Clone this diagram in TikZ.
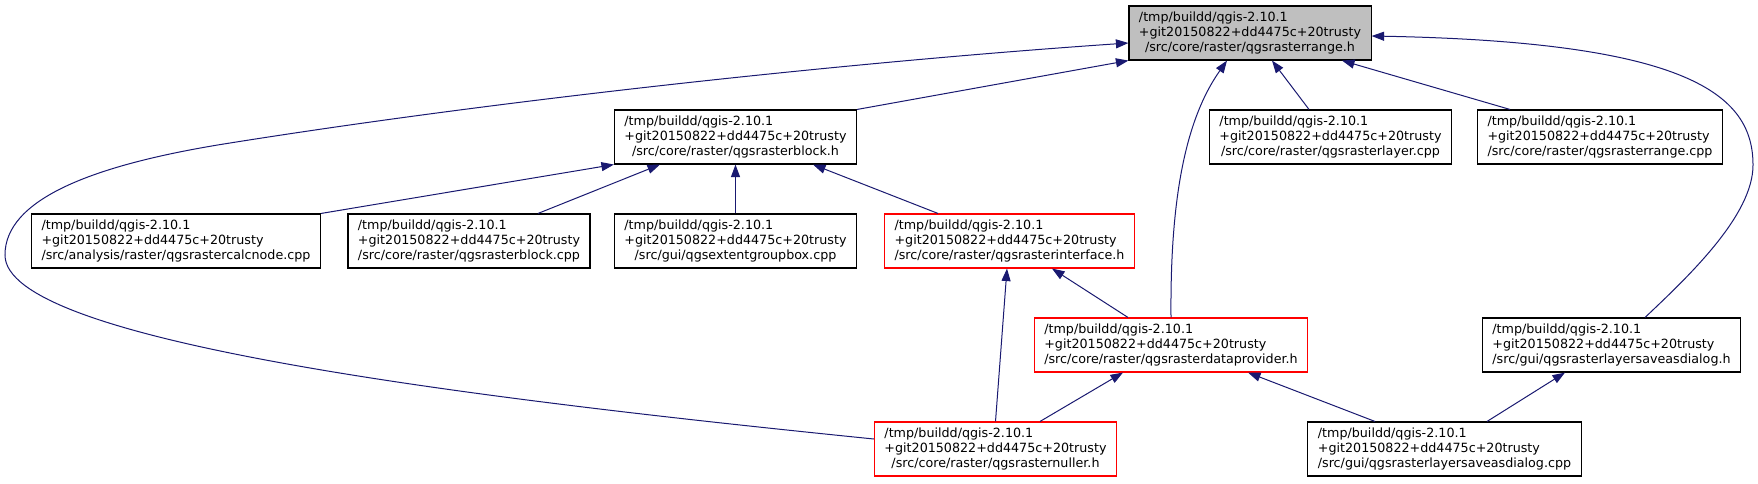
\documentclass[tikz,border=0pt]{standalone}
\usepackage{fontspec}
\setmainfont{DejaVu Sans}
\usepackage{tikz}
\usetikzlibrary{arrows.meta}
\definecolor{edgeblue}{HTML}{191970}
\definecolor{rootgrey}{HTML}{BFBFBF}
\newcommand{\qgisfile}[1]{\begin{tabular}{@{}l@{}}/tmp/buildd/qgis-2.10.1\\+git20150822+dd4475c+20trusty\\\multicolumn{1}{@{}c@{}}{#1}\end{tabular}}

\begin{document}
\begin{tikzpicture}[x=1pt, y=-1pt, node distance=104pt, every node/.style={draw, fill=white, line width=1.1pt, inner xsep=10pt, inner ysep=0pt, minimum height=54pt, font=\fontsize{12.7}{15}\selectfont}, dep/.style={edgeblue, line width=1pt, -{Triangle[length=12.5pt, width=9pt]}}]
\useasboundingbox (0,0) rectangle (1758,483);
\node[fill=rootgrey] (range) at (1250,33) {\qgisfile{/src/core/raster/qgsrasterrange.h}};
\node[below of=range, xshift=-514.5pt] (block) {\qgisfile{/src/core/raster/qgsrasterblock.h}};
\node[below of=range, xshift=80.5pt] (layercpp) {\qgisfile{/src/core/raster/qgsrasterlayer.cpp}};
\node[below of=range, xshift=350pt] (rangecpp) {\qgisfile{/src/core/raster/qgsrasterrange.cpp}};
\node[below of=block, xshift=-559.5pt] (calcnode) {\qgisfile{/src/analysis/raster/qgsrastercalcnode.cpp}};
\node[below of=block, xshift=-266.5pt] (blockcpp) {\qgisfile{/src/core/raster/qgsrasterblock.cpp}};
\node[below of=block] (extent) {\qgisfile{/src/gui/qgsextentgroupbox.cpp}};
\node[below of=block, xshift=274pt, draw=red] (iface) {\qgisfile{/src/core/raster/qgsrasterinterface.h}};
\node[below of=iface, xshift=161.5pt, draw=red] (dataprov) {\qgisfile{/src/core/raster/qgsrasterdataprovider.h}};
\node[right of=dataprov, xshift=336.5pt] (saveh) {\qgisfile{/src/gui/qgsrasterlayersaveasdialog.h}};
\node[below of=dataprov, xshift=-175.5pt, draw=red] (nuller) {\qgisfile{/src/core/raster/qgsrasternuller.h}};
\node[below of=dataprov, xshift=273.5pt] (savecpp) {\qgisfile{/src/gui/qgsrasterlayersaveasdialog.cpp}};
\draw[dep] (block.north east) -- (range.south west);
\draw[dep] ([yshift=10pt]nuller.west) .. controls (450,396) and (5,340) .. (5,255) .. controls (5,200) and (90,165) .. (230,143) .. controls (500,100) and (850,62) .. ([yshift=-10pt]range.west);
\draw[dep] (dataprov.north) .. controls (1170,200) and (1185,120) .. ([xshift=-23pt]range.south);
\draw[dep] ([xshift=-21.5pt]layercpp.north) -- ([xshift=22pt]range.south);
\draw[dep] ([xshift=-90pt]rangecpp.north) -- ([xshift=92pt]range.south);
\draw[dep] ([xshift=33.5pt]saveh.north) .. controls (1690,275) and (1753,215) .. (1753,165) .. controls (1753,95) and (1690,42) .. ([yshift=-3pt]range.east);
\draw[dep] (calcnode.north east) -- (block.south west);
\draw[dep] ([xshift=69pt]blockcpp.north) -- ([xshift=-75.5pt]block.south);
\draw[dep] (extent.north) -- (block.south);
\draw[dep] ([xshift=-71.5pt]iface.north) -- ([xshift=77.5pt]block.south);
\draw[dep] ([xshift=-43pt]dataprov.north) -- ([xshift=42.5pt]iface.south);
\draw[dep] (nuller.north) -- ([xshift=-2.5pt]iface.south);
\draw[dep] ([xshift=44.5pt]nuller.north) -- ([xshift=-48pt]dataprov.south);
\draw[dep] ([xshift=-69.5pt]savecpp.north) -- ([xshift=77pt]dataprov.south);
\draw[dep] ([xshift=42.5pt]savecpp.north) -- ([xshift=-46.5pt]saveh.south);
\end{tikzpicture}
\end{document}
